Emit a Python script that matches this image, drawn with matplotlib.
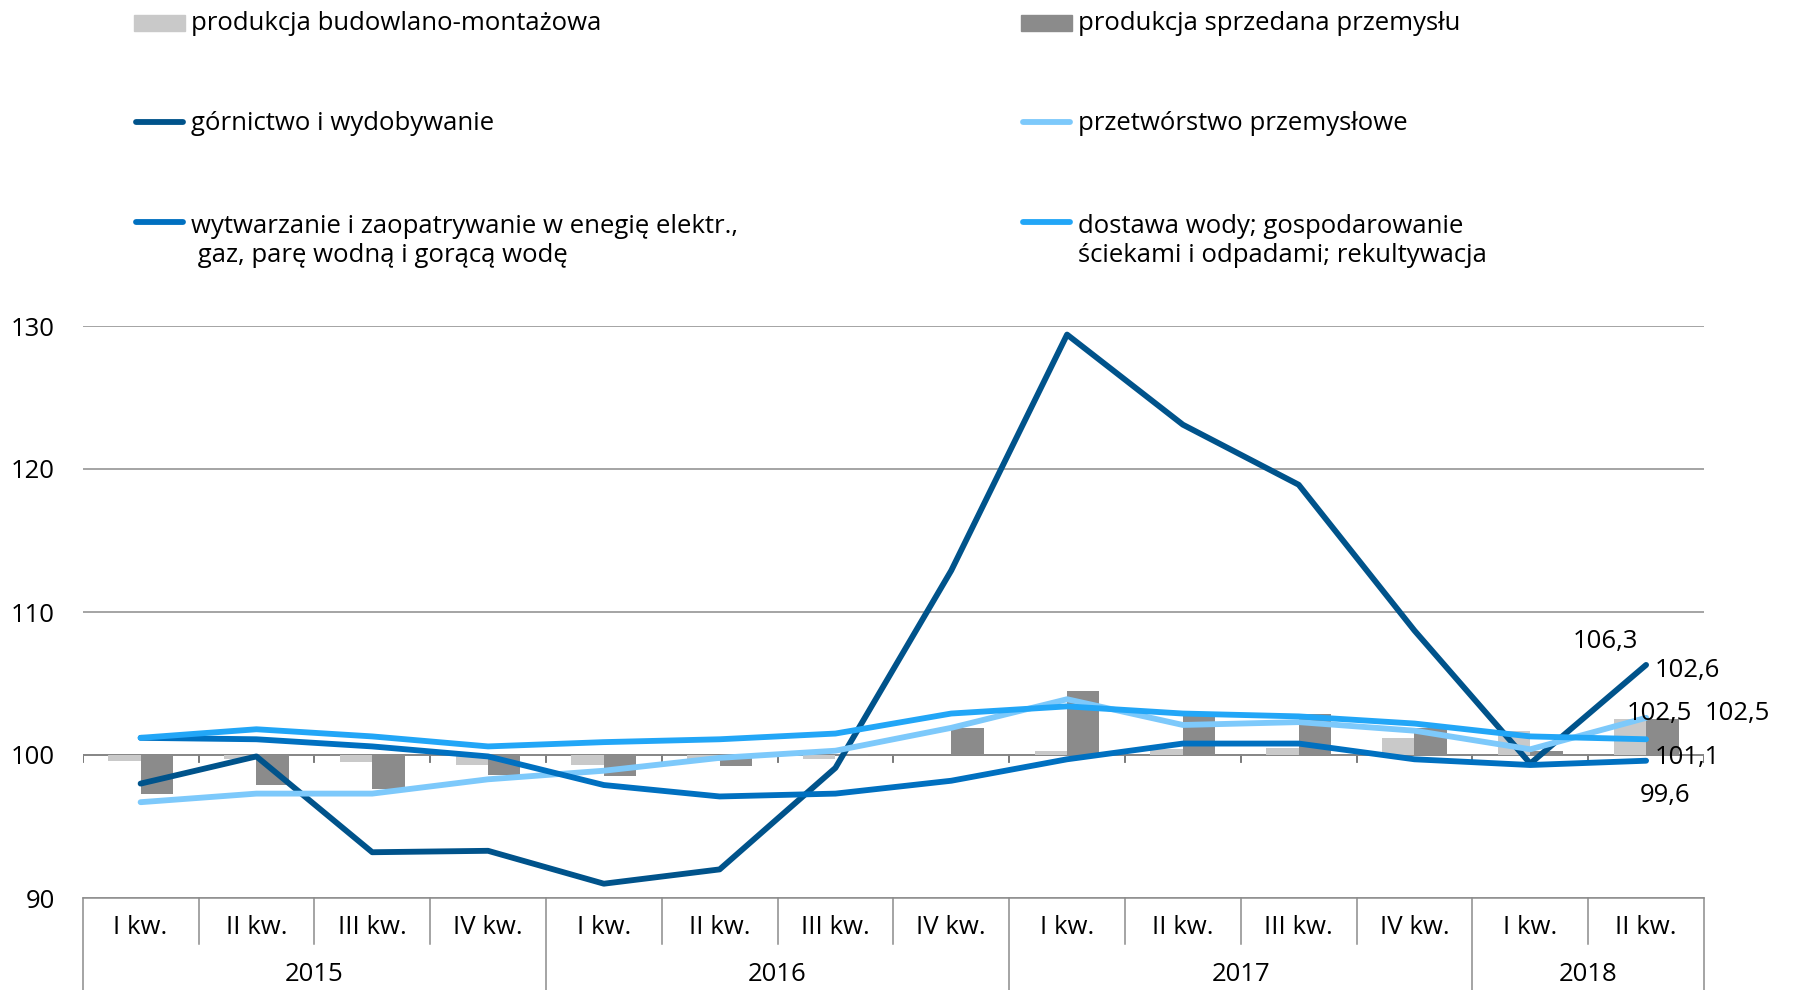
import matplotlib
matplotlib.use('Agg')
import matplotlib.pyplot as plt
from matplotlib.lines import Line2D
from matplotlib.patches import Rectangle

plt.rcParams['font.family'] = ['Open Sans', 'DejaVu Sans']
plt.rcParams['font.size'] = 18.5

# kwartaly i lata
quarters = ['I kw.', 'II kw.', 'III kw.', 'IV kw.',
            'I kw.', 'II kw.', 'III kw.', 'IV kw.',
            'I kw.', 'II kw.', 'III kw.', 'IV kw.',
            'I kw.', 'II kw.']
years = ['2015', '2016', '2017', '2018']
year_len = [4, 4, 4, 2]

# slupki
budowlano = [99.6, 99.7, 99.5, 99.3, 99.3, 99.6, 99.7, 100.0, 100.3, 100.4, 100.5, 101.2, 101.7, 102.5]
sprzedana = [97.3, 97.9, 97.6, 98.6, 98.5, 99.2, 99.9, 101.9, 104.5, 102.7, 102.9, 101.9, 100.3, 102.5]

# linie
gornictwo = [98.0, 99.9, 93.2, 93.3, 91.0, 92.0, 99.1, 112.9, 129.4, 123.1, 118.9, 108.7, 99.4, 106.3]
przetworstwo = [96.7, 97.3, 97.3, 98.3, 98.9, 99.8, 100.3, 101.9, 103.9, 102.1, 102.3, 101.7, 100.4, 102.6]
wytwarzanie = [101.2, 101.1, 100.6, 99.9, 97.9, 97.1, 97.3, 98.2, 99.7, 100.8, 100.8, 99.7, 99.3, 99.6]
dostawa = [101.2, 101.8, 101.3, 100.6, 100.9, 101.1, 101.5, 102.9, 103.4, 102.9, 102.7, 102.2, 101.3, 101.1]

c_bud = '#c9c9c9'
c_sprz = '#8b8b8b'
c_gor = '#00538b'
c_prz = '#7dc9fb'
c_wyt = '#0070c0'
c_dos = '#22a6f7'
LW = 4.2

W, H = 1793, 990
fig = plt.figure(figsize=(W / 100, H / 100), dpi=100)
ax = fig.add_axes([82.7 / W, 1 - 898 / H, (1704 - 82.7) / W, (898 - 326) / H])

x = list(range(len(quarters)))
bw = 0.28
ax.bar([i - bw / 2 for i in x], [v - 100 for v in budowlano], bw, bottom=100, color=c_bud, zorder=2)
ax.bar([i + bw / 2 for i in x], [v - 100 for v in sprzedana], bw, bottom=100, color=c_sprz, zorder=2)

for ys, col in [(gornictwo, c_gor), (przetworstwo, c_prz), (wytwarzanie, c_wyt), (dostawa, c_dos)]:
    ax.plot(x, ys, color=col, lw=LW, solid_capstyle='round', solid_joinstyle='round', zorder=3)

ax.set_xlim(-0.5, len(quarters) - 0.5)
ax.set_ylim(90, 130)
ax.set_yticks([90, 100, 110, 120, 130])
ax.tick_params(axis='y', length=0, pad=20, labelsize=18.5)
ax.set_xticks([])
ax.grid(axis='y', color='#8c8c8c', lw=1.1, zorder=0)
for s in ['top', 'right', 'left']:
    ax.spines[s].set_visible(False)
ax.spines['bottom'].set_color('#8c8c8c')
ax.spines['bottom'].set_linewidth(1.1)

# os w 100 z kreskami
ax.axhline(100, color='#6f6f6f', lw=1.3, zorder=1)
for b in range(len(quarters) + 1):
    ax.plot([b - 0.5, b - 0.5], [100, 99.5], color='#6f6f6f', lw=1.3, zorder=1)

# tabela kategorii pod wykresem
tr = ax.get_xaxis_transform()
year_edges = [-0.5]
for n in year_len:
    year_edges.append(year_edges[-1] + n)
for b in range(len(quarters) + 1):
    e = b - 0.5
    low = -0.16 if e in year_edges else -0.0805
    ax.plot([e, e], [0, low], transform=tr, color='#8c8c8c', lw=1.1, clip_on=False)
for i, q in enumerate(quarters):
    ax.text(i, -0.052, q, transform=tr, ha='center', va='center')
for k, yr in enumerate(years):
    ax.text((year_edges[k] + year_edges[k + 1]) / 2, -0.133, yr, transform=tr, ha='center', va='center')

# etykiety wartosci dla ostatniego kwartalu
def lab(v, dx, dy):
    ax.annotate(f'{v:.1f}'.replace('.', ','), (x[-1], v), xytext=(dx, dy),
                textcoords='offset points', ha='center', va='center', annotation_clip=False)

lab(gornictwo[-1], -29, 17)
lab(przetworstwo[-1], 30, 34)
lab(budowlano[-1], 9.5, 4)
lab(sprzedana[-1], 66, 4)
lab(dostawa[-1], 30, -13)
lab(wytwarzanie[-1], 13.5, -25)

# legenda
entries = [
    ('bar', c_bud, 'produkcja budowlano-montażowa', 134, 191, 23, 30),
    ('bar', c_sprz, 'produkcja sprzedana przemysłu', 1021, 1078, 23, 30),
    ('line', c_gor, 'górnictwo i wydobywanie', 134, 191, 122, 130),
    ('line', c_prz, 'przetwórstwo przemysłowe', 1021, 1078, 122, 130),
    ('line', c_wyt, 'wytwarzanie i zaopatrywanie w enegię elektr.,\n gaz, parę wodną i gorącą wodę', 134, 191, 222, 262),
    ('line', c_dos, 'dostawa wody; gospodarowanie\nściekami i odpadami; rekultywacja', 1021, 1078, 222, 262),
]
for kind, col, txt, hx, tx, hy, by in entries:
    if kind == 'bar':
        fig.add_artist(Rectangle((hx / W, 1 - (hy + 8) / H), 51 / W, 16 / H,
                                 transform=fig.transFigure, color=col))
    else:
        fig.add_artist(Line2D([(hx + 2) / W, (hx + 49) / W], [1 - hy / H, 1 - hy / H],
                              transform=fig.transFigure, color=col, lw=LW, solid_capstyle='round'))
    fig.text(tx / W, 1 - by / H, txt, ha='left', va='baseline', linespacing=1.2)

fig.savefig('out.png', dpi=100)
